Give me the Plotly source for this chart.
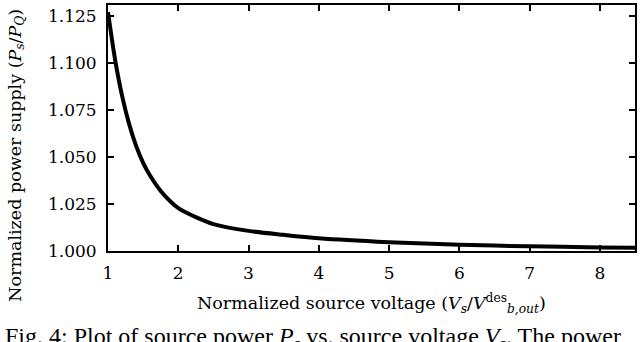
import plotly.graph_objects as go

# normalized source voltage Vs / Vb,out
v_norm = [1.00, 1.10, 1.20, 1.30, 1.40, 1.50, 1.60, 1.75, 1.90, 2.00,
          2.25, 2.50, 3.00, 3.50, 4.00, 5.00, 6.00, 7.00, 8.00, 8.50]
# normalized power supply Ps / PQ
p_norm = [1.127, 1.1019, 1.0826, 1.0676, 1.0559, 1.0469, 1.0400, 1.0319, 1.0259, 1.0228,
          1.0180, 1.0143, 1.0107, 1.0086, 1.0068, 1.0047, 1.0033, 1.0025, 1.0019, 1.0017]

x_ticks = [1, 2, 3, 4, 5, 6, 7, 8]
y_ticks = [1.000, 1.025, 1.050, 1.075, 1.100, 1.125]

serif = "DejaVu Serif"
times = "Liberation Serif"

fig = go.Figure()
fig.add_trace(go.Scatter(x=v_norm, y=p_norm, mode="lines",
                         line=dict(color="black", width=4, shape="spline", smoothing=0.8),
                         showlegend=False))

axis_common = dict(showline=True, linecolor="black", linewidth=2, mirror="ticks",
                   ticks="inside", ticklen=6, tickwidth=2, tickcolor="black",
                   showgrid=False, zeroline=False,
                   tickfont=dict(family=serif, size=17, color="black"))

fig.update_xaxes(range=[1, 8.5], tickvals=x_ticks, ticklabelstandoff=6, **axis_common)
fig.update_yaxes(range=[1.0, 1.1308], tickvals=y_ticks, tickformat=".3f",
                 ticklabelstandoff=6, **axis_common)

fig.add_annotation(text="Normalized source voltage (<i>V<sub>s</sub></i>/<i>V</i><sup>des</sup><sub><i>b,out</i></sub>)",
                   xref="paper", yref="paper", x=0.5, y=-0.155, yanchor="top",
                   showarrow=False, font=dict(family=serif, size=17.5, color="black"))
fig.add_annotation(text="Normalized power supply (<i>P<sub>s</sub></i>/<i>P<sub>Q</sub></i>)",
                   xref="paper", yref="paper", x=-0.175, y=0.39, textangle=-90,
                   xanchor="center", yanchor="middle",
                   showarrow=False, font=dict(family=serif, size=17.5, color="black"))
fig.add_annotation(text="Fig. 4: Plot of source power <i>P<sub>s</sub></i> vs. source voltage <i>V<sub>s</sub></i>. The power",
                   xref="paper", yref="paper", x=-0.2, y=-0.283, xanchor="left", yanchor="top",
                   showarrow=False, font=dict(family=times, size=24, color="black"))

fig.update_layout(width=640, height=342, margin=dict(l=108, r=4, t=3, b=91),
                  plot_bgcolor="white", paper_bgcolor="white")

fig.write_html("out.html", config={"displayModeBar": False},
               post_script="document.body.style.margin='0';")
